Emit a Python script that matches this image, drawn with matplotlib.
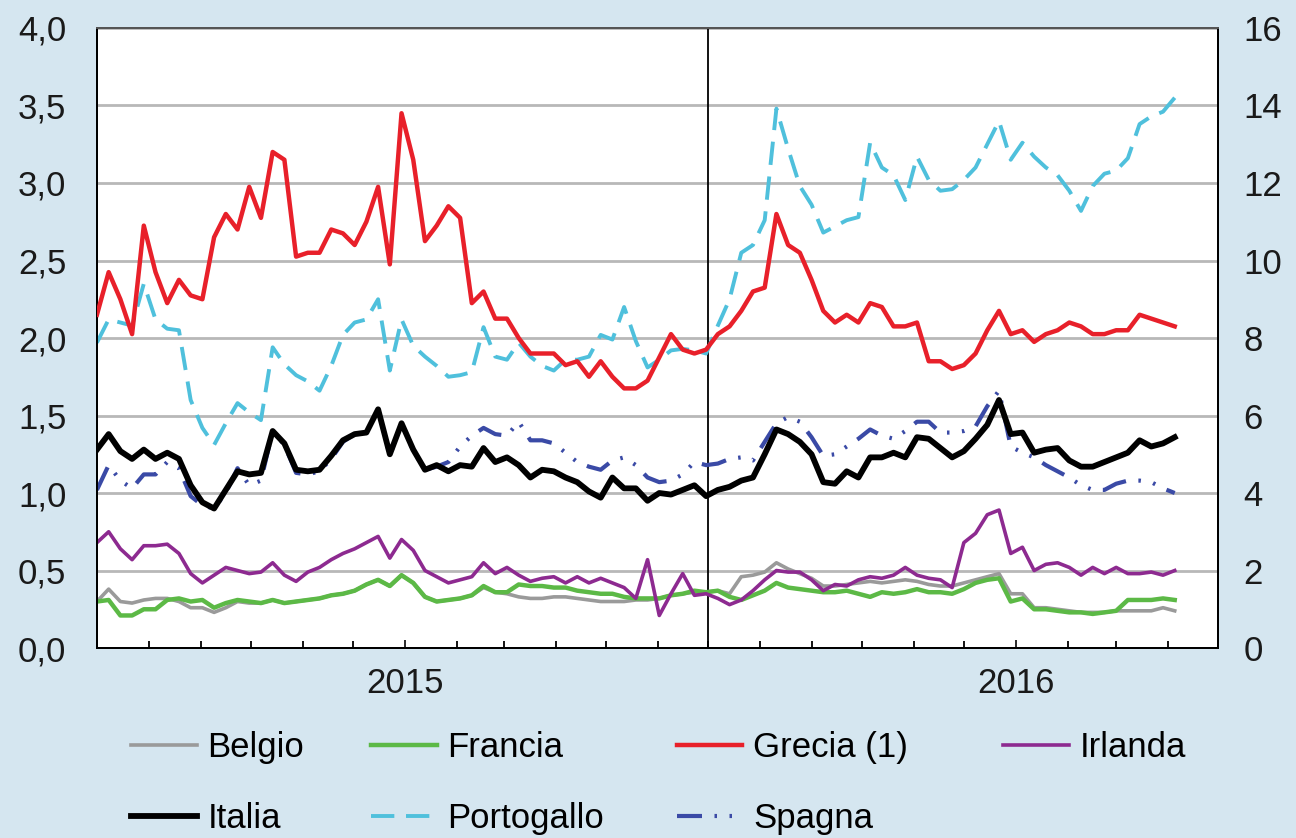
"""
Spread settimanali titoli di Stato area euro (lug. 2014 - apr. 2016).
Grecia sull'asse di destra.
"""

import matplotlib
matplotlib.use("Agg")
import matplotlib.pyplot as plt
import matplotlib.dates as mdates
from matplotlib.ticker import FuncFormatter, MultipleLocator
import pandas as pd

plt.rcParams["font.family"] = ["Liberation Sans", "DejaVu Sans"]

# Dati settimanali
weeks = pd.date_range("2014-07-01", periods=93, freq="7D")

belgio = [0.30, 0.38, 0.30, 0.29, 0.31, 0.32, 0.32, 0.30, 0.26, 0.26, 0.23, 0.26, 0.30, 0.29, 0.29, 0.31,
          0.29, 0.30, 0.31, 0.32, 0.34, 0.35, 0.37, 0.41, 0.44, 0.40, 0.47, 0.42, 0.33, 0.30, 0.31, 0.32,
          0.34, 0.39, 0.36, 0.35, 0.33, 0.32, 0.32, 0.33, 0.33, 0.32, 0.31, 0.30, 0.30, 0.30, 0.31, 0.31,
          0.32, 0.34, 0.35, 0.36, 0.36, 0.37, 0.35, 0.46, 0.47, 0.49, 0.55, 0.51, 0.48, 0.45, 0.40, 0.40,
          0.41, 0.42, 0.43, 0.42, 0.43, 0.44, 0.43, 0.41, 0.40, 0.40, 0.42, 0.44, 0.46, 0.48, 0.35, 0.35,
          0.26, 0.26, 0.25, 0.24, 0.23, 0.23, 0.23, 0.24, 0.24, 0.24, 0.24, 0.26, 0.24]
francia = [0.30, 0.31, 0.21, 0.21, 0.25, 0.25, 0.31, 0.32, 0.30, 0.31, 0.26, 0.29, 0.31, 0.30, 0.29, 0.31,
           0.29, 0.30, 0.31, 0.32, 0.34, 0.35, 0.37, 0.41, 0.44, 0.40, 0.47, 0.42, 0.33, 0.30, 0.31, 0.32,
           0.34, 0.40, 0.36, 0.36, 0.41, 0.40, 0.40, 0.39, 0.39, 0.37, 0.36, 0.35, 0.35, 0.33, 0.32, 0.32,
           0.32, 0.34, 0.35, 0.37, 0.36, 0.37, 0.33, 0.31, 0.34, 0.37, 0.42, 0.39, 0.38, 0.37, 0.36, 0.36,
           0.37, 0.35, 0.33, 0.36, 0.35, 0.36, 0.38, 0.36, 0.36, 0.35, 0.38, 0.42, 0.44, 0.45, 0.30, 0.32,
           0.25, 0.25, 0.24, 0.23, 0.23, 0.22, 0.23, 0.24, 0.31, 0.31, 0.31, 0.32, 0.31]
# Grecia: scala di destra
grecia = [8.6, 9.7, 9.0, 8.1, 10.9, 9.7, 8.9, 9.5, 9.1, 9.0, 10.6, 11.2, 10.8, 11.9, 11.1, 12.8,
          12.6, 10.1, 10.2, 10.2, 10.8, 10.7, 10.4, 11.0, 11.9, 9.9, 13.8, 12.6, 10.5, 10.9, 11.4, 11.1,
          8.9, 9.2, 8.5, 8.5, 8.0, 7.6, 7.6, 7.6, 7.3, 7.4, 7.0, 7.4, 7.0, 6.7, 6.7, 6.9,
          7.5, 8.1, 7.7, 7.6, 7.7, 8.1, 8.3, 8.7, 9.2, 9.3, 11.2, 10.4, 10.2, 9.5, 8.7, 8.4,
          8.6, 8.4, 8.9, 8.8, 8.3, 8.3, 8.4, 7.4, 7.4, 7.2, 7.3, 7.6, 8.2, 8.7, 8.1, 8.2,
          7.9, 8.1, 8.2, 8.4, 8.3, 8.1, 8.1, 8.2, 8.2, 8.6, 8.5, 8.4, 8.3]
irlanda = [0.68, 0.75, 0.64, 0.57, 0.66, 0.66, 0.67, 0.61, 0.48, 0.42, 0.47, 0.52, 0.50, 0.48, 0.49, 0.55,
           0.47, 0.43, 0.49, 0.52, 0.57, 0.61, 0.64, 0.68, 0.72, 0.58, 0.70, 0.63, 0.50, 0.46, 0.42, 0.44,
           0.46, 0.55, 0.48, 0.52, 0.47, 0.43, 0.45, 0.46, 0.42, 0.46, 0.42, 0.45, 0.42, 0.39, 0.32, 0.57,
           0.21, 0.35, 0.48, 0.34, 0.35, 0.32, 0.28, 0.31, 0.37, 0.44, 0.50, 0.49, 0.49, 0.44, 0.37, 0.41,
           0.40, 0.44, 0.46, 0.45, 0.47, 0.52, 0.47, 0.45, 0.44, 0.39, 0.68, 0.74, 0.86, 0.89, 0.61, 0.65,
           0.50, 0.54, 0.55, 0.52, 0.47, 0.52, 0.48, 0.52, 0.48, 0.48, 0.49, 0.47, 0.50]
italia = [1.28, 1.38, 1.27, 1.22, 1.28, 1.22, 1.26, 1.22, 1.05, 0.94, 0.90, 1.02, 1.14, 1.12, 1.13, 1.40,
          1.32, 1.15, 1.14, 1.15, 1.24, 1.34, 1.38, 1.39, 1.54, 1.25, 1.45, 1.28, 1.15, 1.18, 1.14, 1.18,
          1.17, 1.29, 1.20, 1.23, 1.18, 1.10, 1.15, 1.14, 1.10, 1.07, 1.01, 0.97, 1.10, 1.03, 1.03, 0.95,
          1.00, 0.99, 1.02, 1.05, 0.98, 1.02, 1.04, 1.08, 1.10, 1.25, 1.41, 1.38, 1.33, 1.25, 1.07, 1.06,
          1.14, 1.10, 1.23, 1.23, 1.26, 1.23, 1.36, 1.35, 1.29, 1.23, 1.27, 1.35, 1.44, 1.60, 1.38, 1.39,
          1.26, 1.28, 1.29, 1.21, 1.17, 1.17, 1.20, 1.23, 1.26, 1.34, 1.30, 1.32, 1.36]
portogallo = [1.97, 2.12, 2.10, 2.08, 2.35, 2.12, 2.06, 2.05, 1.60, 1.42, 1.31, 1.45, 1.58, 1.52, 1.47, 1.94,
              1.83, 1.76, 1.72, 1.66, 1.82, 2.02, 2.10, 2.12, 2.25, 1.79, 2.12, 1.95, 1.88, 1.82, 1.75, 1.76,
              1.78, 2.07, 1.88, 1.86, 1.97, 1.88, 1.82, 1.79, 1.86, 1.86, 1.88, 2.02, 1.99, 2.20, 1.98, 1.81,
              1.86, 1.92, 1.93, 1.92, 1.90, 2.08, 2.25, 2.55, 2.60, 2.76, 3.48, 3.22, 2.98, 2.86, 2.68, 2.72,
              2.76, 2.78, 3.26, 3.10, 3.05, 2.89, 3.17, 3.02, 2.95, 2.96, 3.02, 3.10, 3.25, 3.40, 3.15, 3.26,
              3.17, 3.10, 3.05, 2.95, 2.82, 2.98, 3.06, 3.08, 3.16, 3.38, 3.43, 3.46, 3.55]
spagna = [1.02, 1.18, 1.08, 1.03, 1.12, 1.12, 1.20, 1.16, 0.98, 0.92, 0.90, 1.00, 1.16, 1.05, 1.08, 1.40,
          1.31, 1.13, 1.12, 1.14, 1.22, 1.33, 1.38, 1.39, 1.54, 1.24, 1.45, 1.27, 1.15, 1.17, 1.20, 1.30,
          1.37, 1.42, 1.38, 1.37, 1.46, 1.34, 1.34, 1.32, 1.26, 1.20, 1.17, 1.15, 1.21, 1.23, 1.18, 1.10,
          1.07, 1.08, 1.12, 1.20, 1.18, 1.19, 1.22, 1.23, 1.21, 1.33, 1.45, 1.49, 1.46, 1.36, 1.24, 1.25,
          1.30, 1.35, 1.41, 1.37, 1.35, 1.40, 1.46, 1.46, 1.39, 1.39, 1.40, 1.43, 1.56, 1.66, 1.30, 1.26,
          1.23, 1.18, 1.14, 1.10, 1.05, 1.02, 1.02, 1.06, 1.08, 1.08, 1.07, 1.03, 1.00]

BG = "#d5e6f0"
FS = 25

fig = plt.figure(figsize=(12.96, 8.38), dpi=100, facecolor=BG)
ax = fig.add_axes([0.0748, 0.2267, 0.8652, 0.7399])
ax.set_facecolor("white")

# linea verticale a luglio 2015
ax.axvline(pd.Timestamp("2015-07-01"), color="black", lw=1.3, zorder=1)

ln_spa, = ax.plot(weeks, spagna, color="#3a4aa6", lw=3.0, dashes=(6, 3, 0.6, 3, 0.6, 3), zorder=3)
ln_bel, = ax.plot(weeks, belgio, color="#9a9a9a", lw=2.6, zorder=3)
ln_fra, = ax.plot(weeks, francia, color="#5cb946", lw=3.2, zorder=3)
ln_irl, = ax.plot(weeks, irlanda, color="#8d2a90", lw=2.6, zorder=3)
ln_por, = ax.plot(weeks, portogallo, color="#4fc0dc", lw=2.8, dashes=(6, 3), zorder=3)
ln_ita, = ax.plot(weeks, italia, color="black", lw=4.2, zorder=4)

ax2 = ax.twinx()
ln_gre, = ax2.plot(weeks, grecia, color="#e8202a", lw=3.2, zorder=3)

ax.set_ylim(0, 4)
ax2.set_ylim(0, 16)
ax.set_xlim(pd.Timestamp("2014-07-01"), pd.Timestamp("2016-05-01"))

ax.yaxis.set_major_locator(MultipleLocator(0.5))
ax.yaxis.set_major_formatter(FuncFormatter(lambda v, p: f"{v:.1f}".replace(".", ",")))
ax2.yaxis.set_major_locator(MultipleLocator(2))
ax2.yaxis.set_major_formatter(FuncFormatter(lambda v, p: f"{v:.0f}"))

ax.grid(axis="y", color="#b8b8b8", lw=2.0, zorder=0)
ax.set_axisbelow(True)

ax.xaxis.set_major_locator(mdates.MonthLocator(bymonth=1))
ax.xaxis.set_major_formatter(mdates.DateFormatter("%Y"))
ax.xaxis.set_minor_locator(mdates.MonthLocator())

ax.tick_params(axis="x", which="major", direction="in", length=6, width=1.3,
               labelsize=FS, pad=14, colors="#1a1a1a")
ax.tick_params(axis="x", which="minor", direction="in", length=5, width=1.3)
ax.tick_params(axis="y", length=0, labelsize=FS, pad=22, colors="#1a1a1a")
ax2.tick_params(axis="y", length=0, labelsize=FS, pad=18, colors="#1a1a1a")

for a in (ax, ax2):
    for side in ("left", "right", "bottom"):
        a.spines[side].set_color("black")
        a.spines[side].set_linewidth(1.4)
    a.spines["top"].set_color("#555555")
    a.spines["top"].set_linewidth(1.4)

# Legenda: quattro colonne, due righe
columns = [
    ([ln_bel, ln_ita], ["Belgio", "Italia"], 0.101),
    ([ln_fra, ln_por], ["Francia", "Portogallo"], 0.286),
    ([ln_gre, ln_spa], ["Grecia (1)", "Spagna"], 0.522),
    ([ln_irl], ["Irlanda"], 0.774),
]
for handles, labels, xpos in columns:
    fig.legend(handles, labels, loc="upper left", bbox_to_anchor=(xpos, 0.128),
               frameon=False, fontsize=FS, handlelength=1.9, handletextpad=0.3,
               labelspacing=1.1, borderpad=0, borderaxespad=0)

fig.savefig("out.png", dpi=100, facecolor=BG)
